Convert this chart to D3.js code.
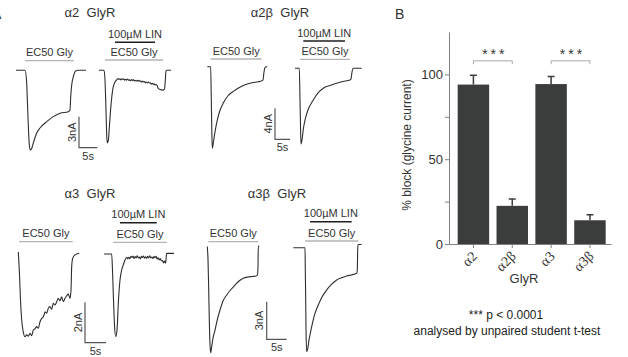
<!DOCTYPE html>
<html>
<head>
<meta charset="utf-8">
<script src="https://cdn.jsdelivr.net/npm/d3@7"></script>
<style>
  html, body { margin: 0; padding: 0; background: #fff; }
  svg { display: block; font-family: Arial, "Liberation Sans", sans-serif; }
</style>
</head>
<body>
<svg id="fig" width="628" height="357"></svg>
<script>
// sweeps: [time (s) from sweep start, current (nA)]
const a2Ctrl = [[0,0],[2.46,0],[2.87,-0.94],[3.2,-3.85],[3.47,-6.28],[3.74,-7.54],[3.96,-7.74],[4.23,-7.64],[4.73,-7.06],[5.66,-6.09],[6.56,-5.6],[8.39,-4.99],[10.19,-4.5],[12.02,-4.17],[14.29,-4.02],[14.75,-3.85],[14.95,-2.56],[15.22,-1.43],[15.66,-0.62],[16.31,-0.07],[16.94,0],[19.13,0]];
const a2Lin = [[0,0],[1.37,0],[1.64,-0.94],[1.91,-3.85],[2.1,-6.28],[2.27,-7.06],[2.54,-6.86],[2.87,-5.3],[3.28,-3.36],[3.83,-1.71],[4.37,-1.14],[4.9,-0.9],
  [5.2,-0.79],[5.46,-0.89],[5.72,-0.83],[5.98,-0.93],[6.24,-0.82],[6.5,-0.88],[6.76,-0.82],[7.02,-0.95],[7.28,-0.87],[7.54,-0.95],[7.8,-0.85],[8.06,-0.96],[8.32,-0.93],[8.58,-1.02],[8.84,-0.9],[9.1,-0.98],[9.36,-0.91],[9.62,-1.03],[9.88,-0.97],[10.14,-1.06],[10.4,-0.97],[10.66,-1.05],[10.92,-0.96],[11.18,-1.08],[11.44,-1.05],[11.7,-1.15],[11.96,-1.04],[12.22,-1.13],[12.48,-1.09],[12.74,-1.21],[13.0,-1.14],[13.26,-1.23],[13.52,-1.14],[13.78,-1.24],[14.04,-1.22],[14.3,-1.34],[14.56,-1.25],[14.82,-1.36],[15.08,-1.31],[15.34,-1.43],[15.6,-1.38],[15.85,-1.45],
  [16.12,-1.72],[16.67,-1.87],[17.49,-1.92],[17.9,-1.82],[18.12,-0.94],[18.31,-0.07],[18.58,0],[19.67,0]];
const a2bCtrl = [[0,0],[1.13,0],[1.33,-4.3],[1.5,-8.17],[1.67,-10.53],[1.9,-10.1],[2.4,-8.8],[3.13,-7.25],[4.07,-5.81],[5.33,-4.69],[6.9,-3.75],[8.67,-3.19],[10.57,-2.72],[12.57,-2.34],[14.9,-2.08],[16.9,-1.95],[18.13,-1.83],[18.57,-1.7],[18.9,-0.68],[19.23,-0.1],[19.57,0],[20,0]];
const a2bLin = [[0,0],[1.43,0],[1.67,-4.09],[1.83,-7.32],[2,-9.77],[2.33,-9.25],[2.83,-7.7],[3.33,-6.67],[4.33,-5.38],[6.1,-4.09],[7.67,-3.18],[9.43,-2.57],[11.67,-2.21],[13.9,-1.93],[16,-1.7],[18.33,-1.5],[18.67,-1.37],[19,-0.48],[19.33,-0.04],[19.67,0],[22.23,0]];
const a3Ctrl = [[0,0.06],[0.29,-1.07],[0.52,-2.31],[0.81,-3.3],[1.19,-3.9],[1.6,-4.13],[2.0,-4.04],[2.4,-4.1],[2.79,-3.96],[3.19,-4.08],[3.57,-3.8],[3.95,-3.74],[4.38,-3.63],[4.76,-3.71],[5.17,-3.39],[5.57,-3.22],[5.95,-3.14],[6.16,-3.03],[6.36,-2.89],[6.76,-2.97],[7.14,-2.72],[7.55,-2.64],[7.95,-2.77],[8.33,-2.48],[8.74,-2.56],[9.14,-2.4],[9.52,-2.23],[9.93,-2.35],[10.33,-2.15],[10.71,-2.4],[11.12,-2.23],[11.52,-2.11],[11.9,-2.01],[12.31,-2.23],[12.55,-1.82],[12.71,-0.66],[12.95,-0.25],[13.5,-0.08],[14.52,0]];
const a3Lin = [[0,0],[1.83,0],[2.02,-0.79],[2.26,-2.28],[2.5,-3.51],[2.79,-4.09],[3.1,-3.76],[3.45,-2.28],[3.81,-1.29],[4.21,-0.79],[4.6,-0.54],[5.0,-0.3],
  [5.4,-0.16],[5.65,-0.24],[5.9,-0.16],[6.15,-0.24],[6.4,-0.11],[6.65,-0.17],[6.9,-0.1],[7.15,-0.22],[7.4,-0.13],[7.65,-0.2],[7.9,-0.09],[8.15,-0.19],[8.4,-0.15],[8.65,-0.24],[8.9,-0.11],[9.15,-0.18],[9.4,-0.1],[9.65,-0.21],[9.9,-0.14],[10.15,-0.22],[10.4,-0.12],[10.65,-0.19],[10.9,-0.09],[11.15,-0.2],[11.4,-0.15],[11.65,-0.23],[11.9,-0.11],[12.15,-0.18],[12.4,-0.12],[12.65,-0.25],[12.9,-0.19],[13.15,-0.3],[13.4,-0.22],[13.65,-0.33],[13.9,-0.32],[14.15,-0.44],[14.4,-0.35],[14.65,-0.46],
  [14.8,-0.2],[14.9,0.03],[16.67,0.03]];
const a3bCtrl = [[0,0],[0.18,-1.08],[0.35,-3.48],[0.5,-5.88],[0.68,-7.88],[0.85,-8.5],[1.05,-8.12],[1.43,-7.32],[1.93,-6.68],[2.55,-5.8],[3.18,-5.08],[3.93,-4.36],[4.85,-3.88],[5.8,-3.48],[6.93,-3.08],[7.93,-2.76],[9.0,-2.54],[10.18,-2.44],[11.18,-2.4],[12.18,-2.36],[12.55,-2.28],[12.68,-1.48],[12.75,0.04],[13.0,0.04]];
const a3bLin = [[0,0],[2.93,0],[3.0,-1.78],[3.1,-4.18],[3.18,-6.58],[3.35,-8.32],[3.55,-8.18],[3.93,-7.38],[4.6,-6.32],[5.3,-5.38],[6.25,-4.58],[7.18,-3.94],[8.35,-3.38],[9.43,-2.98],[10.85,-2.58],[11.93,-2.42],[13.35,-2.26],[14.43,-2.18],[15.85,-2.04],[16.0,-1.78],[16.1,-0.18],[16.18,0.26],[17.1,0.26]];

// drug application windows (s, sweep time)
const a2CtrlGly = [2.46, 15.85];
const a2LinGly = [1.64, 17.49];
const a2LinLin = [4.37, 15.3];
const a2bCtrlGly = [1.13, 18.13];
const a2bLinGly = [1.67, 18.33];
const a2bLinLin = [2.77, 16.67];
const a3CtrlGly = [0.17, 12.95];
const a3LinGly = [2.21, 14.93];
const a3LinLin = [3.81, 12.55];
const a3bCtrlGly = [0.25, 12.75];
const a3bLinGly = [2.93, 16.25];
const a3bLinLin = [4.18, 14.6];

// panel B
const groups = ["α2", "α2β", "α3", "α3β"];
const blockMean = [94, 22.5, 94.3, 14];
const blockSem = [5.5, 4, 4.5, 3.3];
const yTicks = [0, 25, 50, 75, 100];
const yTickLabels = [0, 50, 100];
const sigPairs = [["α2", "α2β"], ["α3", "α3β"]];

const panels = [
  { title: "α2  GlyR", tx: 90, ty: 17, pxPerS: 3.66, pxPerNA: 10.3, bar: { nA: 3, x: 79, y: 147.7 },
    sweeps: [
      { data: a2Ctrl, x0: 16, y0: 70.3, gly: a2CtrlGly, glyY: 60.7 },
      { data: a2Lin, x0: 99, y0: 70.3, gly: a2LinGly, glyY: 60, lin: a2LinLin, linY: 42.3 },
    ] },
  { title: "α2β  GlyR", tx: 280, ty: 17, pxPerS: 3.0, pxPerNA: 7.75, bar: { nA: 4, x: 275, y: 139.3 },
    sweeps: [
      { data: a2bCtrl, x0: 207.3, y0: 66.7, gly: a2bCtrlGly, glyY: 59 },
      { data: a2bLin, x0: 295, y0: 68.3, gly: a2bLinGly, glyY: 59.3, lin: a2bLinLin, linY: 41 },
    ] },
  { title: "α3  GlyR", tx: 90, ty: 197.5, pxPerS: 4.2, pxPerNA: 20.2, bar: { nA: 2, x: 85, y: 342.7 },
    sweeps: [
      { data: a3Ctrl, x0: 18.3, y0: 253.3, gly: a3CtrlGly, glyY: 241.7 },
      { data: a3Lin, x0: 104, y0: 254, gly: a3LinGly, glyY: 242.3, lin: a3LinLin, linY: 222.7 },
    ] },
  { title: "α3β  GlyR", tx: 277, ty: 197.5, pxPerS: 4.0, pxPerNA: 12.5, bar: { nA: 3, x: 266.7, y: 339.3 },
    sweeps: [
      { data: a3bCtrl, x0: 207.3, y0: 246.5, gly: a3bCtrlGly, glyY: 241.7 },
      { data: a3bLin, x0: 293.3, y0: 247.7, gly: a3bLinGly, glyY: 241, lin: a3bLinLin, linY: 221.7 },
    ] },
];

const svg = d3.select("#fig");
const ink = "#333";

function drawSweep(g, p, s) {
  const tMax = d3.max(s.data, (d) => d[0]);
  const x = d3.scaleLinear().domain([0, tMax]).range([s.x0, s.x0 + tMax * p.pxPerS]);
  const y = d3.scaleLinear().domain([0, -1]).range([s.y0, s.y0 + p.pxPerNA]);
  const line = d3.line().x((d) => x(d[0])).y((d) => y(d[1])).curve(d3.curveMonotoneX);

  g.append("path")
    .attr("d", line(s.data))
    .attr("fill", "none")
    .attr("stroke", "#2e2e2e")
    .attr("stroke-width", 1.1)
    .attr("stroke-linejoin", "round");

  g.append("line")
    .attr("x1", x(s.gly[0])).attr("x2", x(s.gly[1]))
    .attr("y1", s.glyY).attr("y2", s.glyY)
    .attr("stroke", "#b4b4b4").attr("stroke-width", 1.3);
  g.append("text")
    .attr("x", x((s.gly[0] + s.gly[1]) / 2)).attr("y", s.glyY - 4.5)
    .attr("text-anchor", "middle").attr("font-size", 11).attr("fill", ink)
    .text("EC50 Gly");

  if (s.lin) {
    g.append("line")
      .attr("x1", x(s.lin[0])).attr("x2", x(s.lin[1]))
      .attr("y1", s.linY).attr("y2", s.linY)
      .attr("stroke", "#1e1e1e").attr("stroke-width", 1.5);
    g.append("text")
      .attr("x", x((s.lin[0] + s.lin[1]) / 2)).attr("y", s.linY - 4.5)
      .attr("text-anchor", "middle").attr("font-size", 11).attr("fill", ink)
      .text("100µM LIN");
  }
}

function drawPanel(p) {
  const g = svg.append("g");
  g.append("text")
    .attr("x", p.tx).attr("y", p.ty)
    .attr("text-anchor", "middle").attr("font-size", 13).attr("fill", ink)
    .style("white-space", "pre")
    .text(p.title);

  for (const s of p.sweeps) drawSweep(g, p, s);

  // scale bar: 5 s by n nA
  const sx = d3.scaleLinear().domain([0, 5]).range([p.bar.x, p.bar.x + 5 * p.pxPerS]);
  const sy = d3.scaleLinear().domain([0, p.bar.nA]).range([p.bar.y, p.bar.y - p.bar.nA * p.pxPerNA]);
  g.append("path")
    .attr("d", `M${sx(0)},${sy(p.bar.nA)}V${sy(0)}H${sx(5)}`)
    .attr("fill", "none").attr("stroke", "#555").attr("stroke-width", 1.2);
  g.append("text")
    .attr("transform", `translate(${sx(0) - 3.5},${sy(p.bar.nA / 2)}) rotate(-90)`)
    .attr("text-anchor", "middle").attr("font-size", 11).attr("fill", ink)
    .text(`${p.bar.nA}nA`);
  g.append("text")
    .attr("x", sx(2.5)).attr("y", p.bar.y + 12)
    .attr("text-anchor", "middle").attr("font-size", 11).attr("fill", ink)
    .text("5s");
}

function drawBars() {
  const x = d3.scaleBand().domain(groups).range([449, 611])
    .paddingInner(0.19).paddingOuter(0.18).align(0.62);
  const y = d3.scaleLinear().domain([0, 125]).range([244, 32]);
  const bar = "#3b3d3c";
  const g = svg.append("g");

  g.append("text")
    .attr("x", 395).attr("y", 18.5).attr("font-size", 14).attr("fill", ink)
    .text("B");

  const yAxis = g.append("g")
    .attr("transform", "translate(449,0)")
    .call(d3.axisLeft(y).tickValues(yTicks).tickSize(4).tickSizeOuter(0).tickPadding(2)
      .tickFormat((d) => (yTickLabels.includes(d) ? d : "")));
  yAxis.select(".domain").attr("stroke", "#808080");
  yAxis.selectAll(".tick line").attr("stroke", "#808080");
  yAxis.selectAll(".tick text").attr("font-size", 13).attr("fill", ink)
    .attr("font-family", "Arial, 'Liberation Sans', sans-serif");

  const xAxis = g.append("g")
    .attr("transform", "translate(0,244)")
    .call(d3.axisBottom(x).tickSize(4).tickSizeOuter(0));
  xAxis.select(".domain").attr("stroke", "#808080");
  xAxis.selectAll(".tick line").attr("stroke", "#808080");
  xAxis.selectAll(".tick text")
    .attr("x", 0).attr("y", 0).attr("dy", 0)
    .attr("text-anchor", "end")
    .attr("transform", "translate(4.5,13) rotate(-45)")
    .attr("font-size", 14).attr("fill", ink)
    .attr("font-family", "'Liberation Serif', 'DejaVu Serif', serif");

  g.selectAll("rect.bar")
    .data(groups)
    .join("rect")
    .attr("class", "bar")
    .attr("x", (d) => x(d))
    .attr("width", x.bandwidth())
    .attr("y", (d, i) => y(blockMean[i]))
    .attr("height", (d, i) => y(0) - y(blockMean[i]))
    .attr("fill", bar);

  const cx = (d) => x(d) + x.bandwidth() / 2;
  g.selectAll("path.err")
    .data(groups)
    .join("path")
    .attr("class", "err")
    .attr("d", (d, i) => {
      const top = y(blockMean[i] + blockSem[i]);
      return `M${cx(d)},${y(blockMean[i])}V${top}M${cx(d) - 3.5},${top}H${cx(d) + 3.5}`;
    })
    .attr("fill", "none").attr("stroke", bar).attr("stroke-width", 1.5);

  for (const [a, b] of sigPairs) {
    g.append("path")
      .attr("d", `M${cx(a)},${y(106)}V${y(108)}H${cx(b)}V${y(106)}`)
      .attr("fill", "none").attr("stroke", "#a8a8a8").attr("stroke-width", 1);
    g.append("text")
      .attr("x", (cx(a) + cx(b)) / 2 + 2).attr("y", y(108) - 1.5)
      .attr("text-anchor", "middle").attr("font-size", 14).attr("fill", ink)
      .attr("letter-spacing", 3)
      .text("***");
  }

  g.append("text")
    .attr("transform", "translate(410.5,145) rotate(-90)")
    .attr("text-anchor", "middle").attr("font-size", 12).attr("fill", ink)
    .text("% block (glycine current)");
  g.append("text")
    .attr("x", 524).attr("y", 283)
    .attr("text-anchor", "middle").attr("font-size", 13).attr("fill", ink)
    .text("GlyR");

  g.append("text")
    .attr("x", 506).attr("y", 319)
    .attr("text-anchor", "middle").attr("font-size", 12).attr("fill", "#222")
    .text("*** p < 0.0001");
  g.append("text")
    .attr("x", 507).attr("y", 335)
    .attr("text-anchor", "middle").attr("font-size", 12).attr("fill", "#222")
    .text("analysed by unpaired student t-test");
}

// panel letter A sits mostly past the left edge, as in the source figure
svg.append("text")
  .attr("x", -8).attr("y", 18.5).attr("font-size", 14).attr("fill", ink)
  .text("A");

for (const p of panels) drawPanel(p);
drawBars();
</script>
</body>
</html>
